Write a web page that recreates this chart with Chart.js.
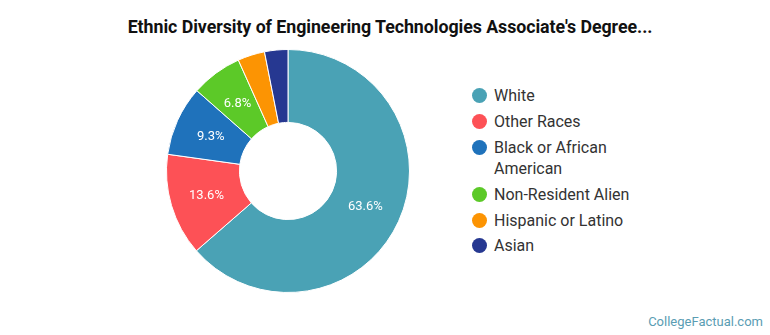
<!DOCTYPE html>
<html>
<head>
<meta charset="utf-8">
<script src="https://cdn.jsdelivr.net/npm/chart.js@4/dist/chart.umd.min.js"></script>
<style>
  html, body { margin: 0; padding: 0; background: #fff; }
  body { width: 770px; height: 335px; position: relative; overflow: hidden; font-family: Roboto, "Noto Sans", sans-serif; }
  #title { position: absolute; left: 0; top: 16px; width: 780px; text-align: center; font-size: 17.8px; font-weight: bold; color: #111; line-height: 22px; letter-spacing: -0.05px; }
  #wrap { position: absolute; left: 166px; top: 49px; width: 244px; height: 244px; }
  #legend { position: absolute; left: 472px; top: 85px; margin: 0; padding: 0; list-style: none; }
  #legend li { display: flex; align-items: flex-start; margin-bottom: 4.9px; font-size: 16px; line-height: 21px; color: #333; }
  #legend .dot { width: 15px; height: 15px; border-radius: 50%; margin-top: 3px; margin-right: 7px; flex: none; }
  #legend .txt { max-width: 150px; }
  #credit { position: absolute; right: 7px; bottom: 6px; font-size: 13px; color: #5a9db3; }
</style>
</head>
<body>
<div id="title">Ethnic Diversity of Engineering Technologies Associate's Degree...</div>
<div id="wrap"><canvas id="chart"></canvas></div>
<ul id="legend"></ul>
<div id="credit">CollegeFactual.com</div>
<script>
// categories and shares (%)
const races = ['White', 'Other Races', 'Black or African American', 'Non-Resident Alien', 'Hispanic or Latino', 'Asian'];
const shares = [63.6, 13.6, 9.3, 6.8, 3.6, 3.1];
const colors = ['#4aa2b5', '#fd5156', '#1f72bb', '#5cc928', '#fc9403', '#263891'];

// legend list
const legend = document.getElementById('legend');
races.forEach((name, i) => {
    const li = document.createElement('li');
    li.innerHTML = '<span class="dot" style="background:' + colors[i] + '"></span><span class="txt">' + name + '</span>';
    legend.appendChild(li);
});

// percent labels inside the bigger slices
const sliceLabels = {
    id: 'sliceLabels',
    afterDatasetsDraw(chart) {
        const ctx = chart.ctx;
        const meta = chart.getDatasetMeta(0);
        ctx.save();
        ctx.font = '13px Roboto, sans-serif';
        ctx.fillStyle = '#fff';
        ctx.textAlign = 'center';
        ctx.textBaseline = 'middle';
        meta.data.forEach((arc, i) => {
            const v = chart.data.datasets[0].data[i];
            if (v < 5) return;
            const p = arc.tooltipPosition();
            ctx.fillText(v.toFixed(1) + '%', p.x, p.y + 1);
        });
        ctx.restore();
    }
};

new Chart(document.getElementById('chart'), {
    type: 'doughnut',
    data: {
        labels: races,
        datasets: [{
            data: shares,
            backgroundColor: colors,
            borderColor: '#fff',
            borderWidth: 1,
        }],
    },
    options: {
        responsive: true,
        maintainAspectRatio: false,
        animation: false,
        cutout: '40%',
        layout: { padding: 0 },
        plugins: {
            legend: { display: false },
            tooltip: { enabled: false },
        },
    },
    plugins: [sliceLabels],
});
</script>
</body>
</html>
